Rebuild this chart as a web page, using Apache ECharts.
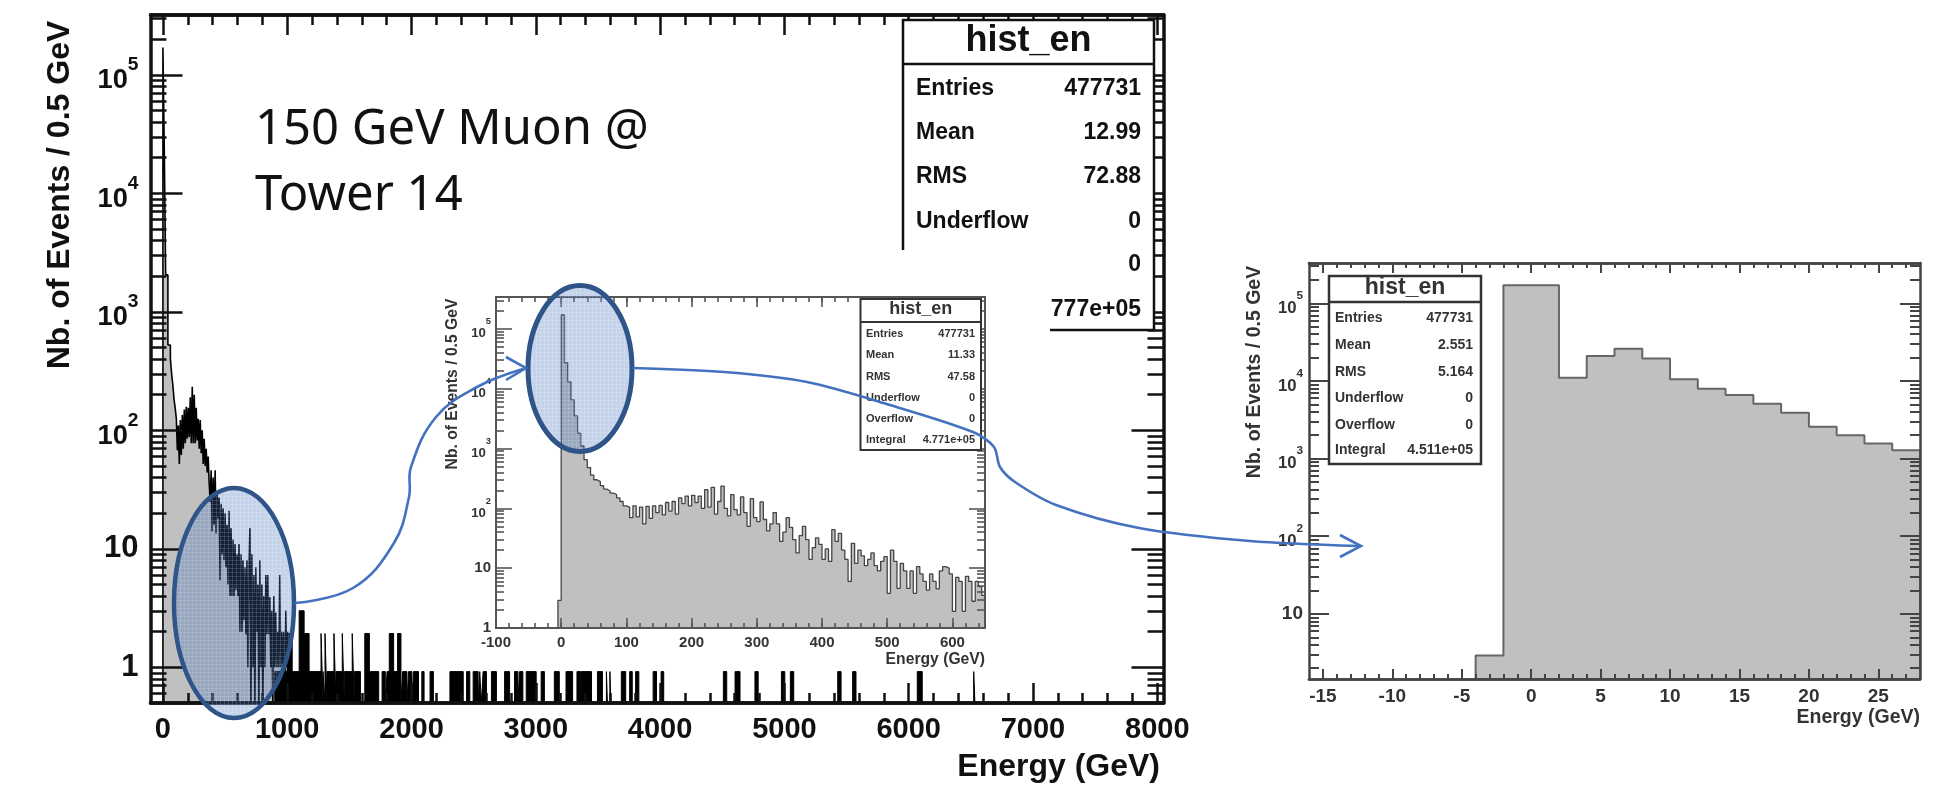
<!DOCTYPE html>
<html>
<head>
<meta charset="utf-8">
<title>hist_en</title>
<script src="https://cdn.jsdelivr.net/npm/echarts@6/dist/echarts.min.js"></script>
<style>
html, body { margin: 0; padding: 0; background: #fff; }
#main { width: 1951px; height: 788px; }
</style>
</head>
<body>
<div id="main"></div>
<script>
// big plot, first bins (GeV edges and counts)
const mainHeadEdges = [0, 12, 22, 40, 60, 70, 80, 90];
const mainHeadCounts = [170000, 19000, 2050, 525, 400, 300, 240, 180];
// big plot, 8 GeV bins starting at 100 GeV
const mainBandStart = 100;
const mainBandWidth = 8;
const mainBandCounts = [
    150, 125, 68, 110, 52, 122, 62, 135, 70, 150, 78, 158, 85, 155, 88, 190, 78, 233, 78, 200,
    78, 155, 82, 125, 70, 122, 64, 100, 52, 85, 50, 70, 44, 60, 36, 25, 46, 14, 40, 16,
    46, 13.5, 30, 18, 27, 5.4, 24, 9, 22, 8, 20, 7, 16, 5, 21, 4, 15, 4, 12, 4,
    11, 4.5, 9, 4, 11, 2, 9, 2, 8, 2.5, 7, 1.9, 8, 1, 7, 15, 0.5, 9, 1, 6,
    0.5, 7, 2, 5, 0.5, 8, 1, 5, 0.5, 4, 1, 6, 1.9, 6, 1.9, 3.9, 1, 3, 0.5, 4,
    1, 2.9, 1, 2, 1, 6, 1, 2, 1, 2, 0.5, 3, 1, 2
];
// big plot, isolated entries above 1 TeV
const spikeStart = [900, 1000, 1040, 1096, 1136, 1176, 1272, 1288, 1304, 1320, 1376, 1392, 1443, 1459, 1523, 1539,
    1624, 1661, 1763, 1803, 1821, 1856, 1888, 1928, 1976, 2016, 2083, 2149, 2309, 2443, 2496, 2549, 2576, 2643, 2749,
    2829, 2869, 2923, 3043, 3149, 3243, 3331, 3368, 3411, 3496, 3568, 3596, 3688, 3755, 3803, 3944, 4008,
    4509, 4603, 4763, 4976, 5048, 5429, 5549, 6069, 6523];
const spikeEnd = [1000, 1040, 1096, 1136, 1176, 1272, 1288, 1304, 1320, 1376, 1392, 1443, 1459, 1523, 1539, 1589,
    1661, 1736, 1789, 1821, 1856, 1888, 1915, 1963, 2003, 2056, 2101, 2176, 2416, 2469, 2536, 2562, 2603, 2683, 2789,
    2856, 2896, 3003, 3069, 3189, 3296, 3363, 3411, 3448, 3536, 3576, 3604, 3723, 3776, 3829, 3971, 4029,
    4536, 4643, 4789, 5003, 5075, 5456, 5576, 6109, 6533];
const spikeCount = [0.92, 1.93, 0.92, 3, 1.93, 0.92, 1.93, 0.92, 1.93, 0.92, 1.93, 0.92, 1.93, 0.92, 1.93, 0.92,
    1.93, 0.92, 0.92, 0.92, 1.93, 0.92, 1.93, 0.92, 0.92, 0.92, 0.92, 0.92, 0.92, 0.92, 0.92, 0.92, 0.92, 0.92, 0.92,
    0.92, 0.92, 0.92, 0.92, 0.92, 0.92, 0.92, 0.92, 0.92, 0.92, 0.92, 0.92, 0.92, 0.92, 0.92, 0.92, 0.92,
    0.92, 0.92, 0.92, 0.92, 0.92, 0.92, 0.92, 0.92, 0.92];

// middle plot, 5 GeV bins starting at -5 GeV
const midStart = -5;
const midWidth = 5;
const midCounts = [
    2.9, 170000, 27000, 13000, 6500, 3500, 1800, 1100, 650, 480, 360, 300, 280, 240, 210, 195, 180, 170, 150, 130,
    110, 105, 70, 110, 72, 105, 55, 108, 68, 110, 85, 112, 78, 125, 90, 130, 80, 150, 120, 160,
    110, 165, 125, 160, 100, 205, 105, 224, 80, 130, 235, 100, 75, 170, 95, 78, 155, 85, 50, 145,
    70, 60, 128, 65, 42, 55, 85, 55, 28, 40, 70, 48, 30, 18, 35, 50, 30, 14, 22, 32,
    25, 14, 21, 13, 44, 28, 38, 20, 14, 6, 26, 12, 20, 16, 11, 14, 18, 11, 9, 13,
    15.6, 3.8, 20, 13, 4.6, 12, 9, 4.6, 9, 3.8, 10.6, 8, 6, 4.3, 8, 6, 4.5, 9, 10.6, 10,
    8, 1.9, 7, 6, 1.9, 7.3, 6, 2.8, 6, 4.9, 3.5
];

// right plot, 2 GeV bins starting at -4 GeV
const zoomStart = -4;
const zoomWidth = 2;
const zoomCounts = [2.9, 170000, 170000, 11000, 21000, 26000, 19500, 10500, 7900, 6600, 5100, 3900, 2570, 2000, 1560, 1280];

// tick labels
const decades = [1, 10, 100, 1000, 10000, 100000];
const mainXTicks = [0, 1000, 2000, 3000, 4000, 5000, 6000, 7000, 8000];
const midXTicks = [-100, 0, 100, 200, 300, 400, 500, 600];
const zoomXTicks = [-15, -10, -5, 0, 5, 10, 15, 20, 25];

// stats boxes
const statNames = ['Entries', 'Mean', 'RMS', 'Underflow', 'Overflow', 'Integral'];
const mainStats = ['477731', '12.99', '72.88', '0', '0', '4.777e+05'];
const midStats = ['477731', '11.33', '47.58', '0', '0', '4.771e+05'];
const zoomStats = ['477731', '2.551', '5.164', '0', '0', '4.511e+05'];

const SANS = '"Liberation Sans", Arial, sans-serif';

function range(from, to, step) {
    let out = [];
    for (let v = from; v <= to + 1e-9; v += step) {
        out.push(v);
    }
    return out;
}

function histPoints(edges, counts, endEdge, floor) {
    let pts = [[edges[0], floor]];
    counts.forEach(function (c, i) {
        pts.push([edges[i], c]);
    });
    pts.push([endEdge, floor]);
    return pts;
}

function binEdges(start, width, n) {
    let out = [];
    for (let i = 0; i < n; i++) {
        out.push(start + i * width);
    }
    return out;
}

function logLabel(v) {
    if (v < 100) {
        return '{n|' + v + '}';
    }
    return '{b|10}{s|' + Math.round(Math.log10(v)) + '}';
}

// x: labelled axis + minor tick axis on each side, y: one log axis per side with minorTick
function addAxes(option, grid, p) {
    let idx = option.grid.length;
    option.grid.push(grid);
    let lineStyle = { color: p.color, width: p.frame };

    function xAxis(position, values, len, labels) {
        return {
            type: 'value', gridIndex: idx, position: position, min: p.xMin, max: p.xMax, z: p.z,
            splitLine: { show: false },
            axisLine: { show: true, onZero: false, lineStyle: lineStyle },
            axisTick: { show: true, inside: true, length: len, customValues: values, lineStyle: { color: p.color, width: p.tick } },
            axisLabel: labels ? {
                show: true, customValues: values, margin: p.xMargin, color: p.textColor,
                formatter: function (v) { return String(v); },
                fontFamily: SANS, fontWeight: 'bold', fontSize: p.xFont
            } : { show: false }
        };
    }

    function yAxis(position, labels) {
        let yTicks = decades.filter(function (d) { return d >= p.yMin; });
        return {
            type: 'log', logBase: 10, gridIndex: idx, position: position, min: p.yMin, max: p.yMax, z: p.z,
            splitLine: { show: false },
            axisLine: { show: true, onZero: false, lineStyle: lineStyle },
            axisTick: { show: true, inside: true, length: p.yMajor, customValues: yTicks, lineStyle: { color: p.color, width: p.tick } },
            minorTick: { show: true, splitNumber: 9, length: p.yMajor / 2, lineStyle: { color: p.color, width: p.tick } },
            axisLabel: labels ? {
                show: true, customValues: yTicks, margin: p.yMargin, color: p.textColor,
                formatter: logLabel,
                rich: {
                    n: { fontFamily: SANS, fontWeight: 'bold', fontSize: p.yFont, lineHeight: p.yFont + 8, color: p.textColor },
                    b: { fontFamily: SANS, fontWeight: 'bold', fontSize: p.yFont * 0.88, lineHeight: p.yFont + 8, verticalAlign: 'bottom', color: p.textColor },
                    s: { fontFamily: SANS, fontWeight: 'bold', fontSize: p.yFont * 0.62, lineHeight: p.yFont + 8, verticalAlign: 'top', color: p.textColor }
                }
            } : { show: false }
        };
    }

    let x0 = option.xAxis.length;
    let y0 = option.yAxis.length;
    option.xAxis.push(
        xAxis('bottom', p.xTicks, p.xMajor, true),
        xAxis('bottom', p.xMinor, p.xMajor / 2, false),
        xAxis('top', p.xTicks, p.xMajor, false),
        xAxis('top', p.xMinor, p.xMajor / 2, false)
    );
    option.yAxis.push(yAxis('left', true), yAxis('right', false));
    return { x: x0, y: y0 };
}

function histSeries(name, axes, data, color, width, fill, z) {
    return {
        name: name, type: 'line', xAxisIndex: axes.x, yAxisIndex: axes.y, data: data, step: 'end',
        symbol: 'none', z: z, silent: true, clip: true,
        lineStyle: { color: color, width: width },
        areaStyle: { color: fill, opacity: 1, origin: 'start' }
    };
}

function txt(x, y, text, size, opt) {
    opt = opt || {};
    return {
        type: 'text', x: x, y: y, z: opt.z || 20, rotation: opt.rotation || 0, silent: true,
        style: {
            text: text, fill: opt.color || '#111', fontFamily: opt.family || SANS,
            fontWeight: opt.weight || 'bold', fontSize: size,
            textAlign: opt.align || 'left', textVerticalAlign: 'middle'
        }
    };
}

function line(x1, y1, x2, y2, color, width, z) {
    return { type: 'line', z: z, silent: true, shape: { x1: x1, y1: y1, x2: x2, y2: y2 }, style: { stroke: color, lineWidth: width } };
}

// one stats box, rowY holds the text rows
function statsBox(b, values, list) {
    list.push({
        type: 'rect', z: b.z, silent: true,
        shape: { x: b.x, y: b.y, width: b.w, height: b.h },
        style: { fill: '#fff', stroke: b.color, lineWidth: b.line }
    });
    list.push(line(b.x, b.titleY, b.x + b.w, b.titleY, b.color, b.line, b.z));
    list.push(txt(b.x + b.w / 2, (b.y + b.titleY) / 2 - 1, 'hist_en', b.titleFont, { z: b.z, color: b.color, align: 'center' }));
    statNames.forEach(function (n, i) {
        list.push(txt(b.labelX, b.rowY[i], n, b.font, { z: b.z, color: b.color }));
        list.push(txt(b.valueX, b.rowY[i], values[i], b.font, { z: b.z, color: b.color, align: 'right' }));
    });
}

function dotPattern() {
    let c = document.createElement('canvas');
    c.width = 4;
    c.height = 4;
    let g = c.getContext('2d');
    g.fillStyle = 'rgba(60,110,190,0.30)';
    g.fillRect(0, 0, 4, 4);
    g.fillStyle = 'rgba(255,255,255,0.14)';
    g.fillRect(0, 0, 4, 1);
    g.fillRect(0, 0, 1, 4);
    return { image: c, repeat: 'repeat' };
}

let chart = echarts.init(document.getElementById('main'));
let option = { animation: false, backgroundColor: '#fff', grid: [], xAxis: [], yAxis: [], series: [] };

// big plot
let mainAxes = addAxes(option, { left: 150.5, top: 15, width: 1013, height: 688 }, {
    xMin: -100, xMax: 8050, yMin: 0.5, yMax: 320000, z: 3, color: '#111', textColor: '#111', frame: 3.5, tick: 2.5,
    xTicks: mainXTicks, xMinor: range(0, 8000, 200), xMajor: 20, yMajor: 32,
    xFont: 29, yFont: 31, xMargin: 12, yMargin: 12
});
let bandEdges = binEdges(mainBandStart, mainBandWidth, mainBandCounts.length);
let mainData = histPoints(mainHeadEdges.concat(bandEdges), mainHeadCounts.concat(mainBandCounts),
    bandEdges[bandEdges.length - 1] + mainBandWidth, 0.5);
let spikeData = [];
spikeStart.forEach(function (s, i) {
    spikeData.push([s, 0.5], [s, spikeCount[i]], [spikeEnd[i], 0.5]);
});
option.series.push(histSeries('main', mainAxes, mainData, '#000', 1.6, '#c0c0c0', 2));
option.series.push(histSeries('spikes', mainAxes, spikeData, '#000', 1, '#000', 2));

// middle plot
let midAxes = addAxes(option, { left: 496, top: 297, width: 489, height: 331 }, {
    xMin: -100, xMax: 650, yMin: 1, yMax: 340000, z: 7, color: '#555', textColor: '#333', frame: 2, tick: 1.6,
    xTicks: midXTicks, xMinor: range(-100, 640, 20), xMajor: 10, yMajor: 16,
    xFont: 15, yFont: 15, xMargin: 7, yMargin: 5
});
let midEdges = binEdges(midStart, midWidth, midCounts.length);
option.series.push(histSeries('mid', midAxes, histPoints(midEdges, midCounts, midEdges[midEdges.length - 1] + midWidth, 1), '#444', 1.3, '#c0c0c0', 6));

// right plot
let zoomAxes = addAxes(option, { left: 1309, top: 263, width: 611, height: 416 }, {
    xMin: -16, xMax: 28, yMin: 1.45, yMax: 330000, z: 7, color: '#444', textColor: '#333', frame: 2.5, tick: 2,
    xTicks: zoomXTicks, xMinor: range(-15, 27, 1), xMajor: 10, yMajor: 20,
    xFont: 19, yFont: 19, xMargin: 8, yMargin: 6
});
let zoomEdges = binEdges(zoomStart, zoomWidth, zoomCounts.length);
option.series.push(histSeries('zoom', zoomAxes, histPoints(zoomEdges, zoomCounts, zoomEdges[zoomEdges.length - 1] + zoomWidth, 1.45), '#666', 2, '#c0c0c0', 6));

// titles, boxes, ellipses and arrows
let g = [];
statsBox({ x: 903, y: 20, w: 251, h: 310, titleY: 64, z: 4, color: '#111', line: 2.5, titleFont: 36, font: 23, labelX: 916, valueX: 1141,
    rowY: [89, 133, 177, 222, 265, 310] }, mainStats, g);
// white patch of the pasted middle plot, it covers part of the big box
g.push({ type: 'rect', z: 5, silent: true, shape: { x: 432, y: 250, width: 618, height: 418 }, style: { fill: '#fff' } });
statsBox({ x: 860.5, y: 299, w: 120.5, h: 151, titleY: 322, z: 8, color: '#333', line: 2, titleFont: 18, font: 11, labelX: 866, valueX: 975,
    rowY: [334, 355, 377, 398, 419, 440] }, midStats, g);
statsBox({ x: 1329, y: 276, w: 152, h: 188, titleY: 302, z: 8, color: '#333', line: 2.5, titleFont: 23, font: 14, labelX: 1335, valueX: 1473,
    rowY: [318, 345, 372, 398, 425, 450] }, zoomStats, g);

g.push(txt(255, 130, '150 GeV Muon @', 49, { family: '"Noto Sans"', weight: 'normal', color: '#111', z: 4 }));
g.push(txt(255, 196, 'Tower 14', 49, { family: '"Noto Sans"', weight: 'normal', color: '#111', z: 4 }));

g.push(txt(60, 195, 'Nb. of Events / 0.5 GeV', 32, { rotation: Math.PI / 2, align: 'center', z: 3 }));
g.push(txt(1160, 767, 'Energy (GeV)', 32, { align: 'right', z: 3 }));
g.push(txt(453, 384, 'Nb. of Events / 0.5 GeV', 15.7, { rotation: Math.PI / 2, align: 'center', color: '#333', z: 8 }));
g.push(txt(985, 660, 'Energy (GeV)', 15.7, { align: 'right', color: '#333', z: 8 }));
g.push(txt(1255, 372, 'Nb. of Events / 0.5 GeV', 19.5, { rotation: Math.PI / 2, align: 'center', color: '#333', z: 8 }));
g.push(txt(1920, 718, 'Energy (GeV)', 19.5, { align: 'right', color: '#333', z: 8 }));

let pattern = dotPattern();
g.push({ type: 'ellipse', z: 10, silent: true, shape: { cx: 234, cy: 603, rx: 60, ry: 115 }, style: { fill: pattern, stroke: '#2f5488', lineWidth: 4.5 } });
g.push({ type: 'ellipse', z: 10, silent: true, shape: { cx: 580, cy: 368.5, rx: 52, ry: 83 }, style: { fill: pattern, stroke: '#2f5488', lineWidth: 5 } });

const arrowColor = '#4472c0';
g.push({ type: 'polyline', z: 11, silent: true, shape: { smooth: 0.4, points: [[295, 603], [353, 588], [394, 543], [409, 497], [411, 467], [436, 417], [477, 387], [523, 369]] },
    style: { stroke: arrowColor, lineWidth: 2.6, fill: null } });
g.push({ type: 'polyline', z: 11, silent: true, shape: { points: [[506, 357], [526, 368], [506, 380]] }, style: { stroke: arrowColor, lineWidth: 2.6, fill: null } });
g.push({ type: 'polyline', z: 11, silent: true, shape: { smooth: 0.3, points: [[633, 368], [724, 372], [807, 382], [890, 405], [973, 432], [994, 447], [1000, 467], [1015, 482], [1056, 505], [1139, 528], [1250, 541], [1359, 546]] },
    style: { stroke: arrowColor, lineWidth: 2.6, fill: null } });
g.push({ type: 'polyline', z: 11, silent: true, shape: { points: [[1340, 535], [1361, 546], [1340, 557]] }, style: { stroke: arrowColor, lineWidth: 2.6, fill: null } });

option.graphic = { elements: g };
chart.setOption(option);
</script>
</body>
</html>
